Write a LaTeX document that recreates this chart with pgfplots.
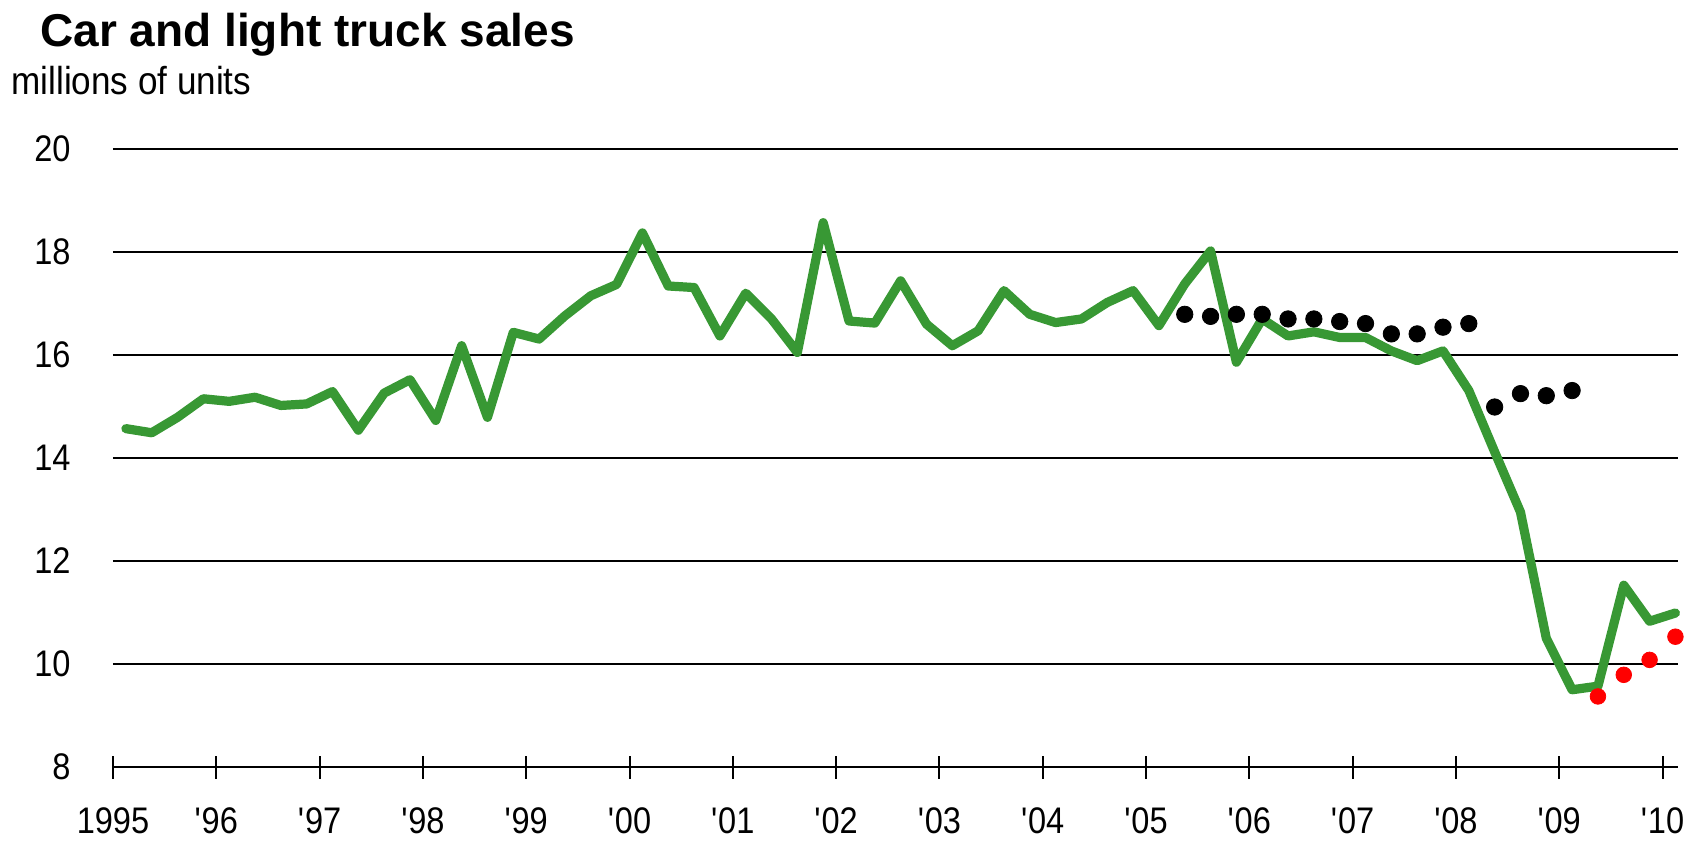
\documentclass[border=0pt]{standalone}
\usepackage{fontspec}
\setmainfont{Liberation Sans}
\newfontfamily\tickfont{Liberation Sans}[FakeStretch=0.88]
\newfontfamily\subfont{Liberation Sans}[FakeStretch=0.9]
\usepackage{pgfplots}
\pgfplotsset{compat=1.18}
\definecolor{lgreen}{RGB}{56,152,52}
\newcommand{\q}{\textquotesingle}
\pgfplotstableread{
x y
1995.125 14.57
1995.375 14.49
1995.625 14.79
1995.875 15.15
1996.125 15.10
1996.375 15.18
1996.625 15.02
1996.875 15.05
1997.125 15.29
1997.375 14.54
1997.625 15.26
1997.875 15.52
1998.125 14.73
1998.375 16.18
1998.625 14.79
1998.875 16.44
1999.125 16.31
1999.375 16.76
1999.625 17.15
1999.875 17.37
2000.125 18.37
2000.375 17.34
2000.625 17.31
2000.875 16.37
2001.125 17.20
2001.375 16.70
2001.625 16.05
2001.875 18.57
2002.125 16.66
2002.375 16.62
2002.625 17.44
2002.875 16.60
2003.125 16.18
2003.375 16.47
2003.625 17.25
2003.875 16.79
2004.125 16.63
2004.375 16.70
2004.625 17.02
2004.875 17.25
2005.125 16.57
2005.375 17.38
2005.625 18.02
2005.875 15.86
2006.125 16.70
2006.375 16.37
2006.625 16.45
2006.875 16.34
2007.125 16.34
2007.375 16.08
2007.625 15.89
2007.875 16.08
2008.125 15.31
2008.375 14.12
2008.625 12.95
2008.875 10.50
2009.125 9.50
2009.375 9.57
2009.625 11.53
2009.875 10.83
2010.125 10.99
}\sales
\pgfplotstableread{
x y
2005.375 16.79
2005.625 16.75
2005.875 16.79
2006.125 16.79
2006.375 16.70
2006.625 16.70
2006.875 16.65
2007.125 16.61
2007.375 16.41
2007.625 16.41
2007.875 16.54
2008.125 16.61
2008.375 14.99
2008.625 15.25
2008.875 15.21
2009.125 15.31
}\blackdots
\pgfplotstableread{
x y
2009.375 9.37
2009.625 9.79
2009.875 10.08
2010.125 10.53
}\reddots
\begin{document}
\begin{tikzpicture}
\begin{axis}[
  at={(0,0)}, anchor=south west,
  scale only axis, width=782.5pt, height=309pt,
  xmin=1995, xmax=2010.15, ymin=8, ymax=20,
  axis lines*=left,
  axis line style={-},
  x axis line style={black, line width=1.2pt},
  y axis line style={draw=none},
  xtick={1995,1996,...,2010},
  xticklabels={1995,\q96,\q97,\q98,\q99,\q00,\q01,\q02,\q03,\q04,\q05,\q06,\q07,\q08,\q09,\q10},
  ytick={8,10,...,20},
  yticklabels={8,10,12,14,16,18,20},
  xtick pos=bottom, ytick pos=left,
  tick align=center, major tick length=11.5pt,
  xtick style={black, line width=1pt},
  ytick style={draw=none},
  ymajorgrids, major grid style={black, line width=1pt},
  tick label style={font=\tickfont\fontsize{18.5}{22}\selectfont},
  xticklabel style={yshift=-11pt},
  yticklabel style={xshift=-12pt},
  clip=false,
]
\addplot[lgreen, line width=4.6pt, line join=round, line cap=round] table[x=x,y=y] {\sales};
\addplot[only marks, mark=*, mark size=4.1pt, black] table[x=x,y=y] {\blackdots};
\addplot[only marks, mark=*, mark size=3.9pt, red, mark options={fill=red, draw=red}] table[x=x,y=y] {\reddots};
\end{axis}
\node[anchor=base west, inner sep=0, font=\bfseries\fontsize{23}{27}\selectfont] at (-36.5pt,360pt) {Car and light truck sales};
\node[anchor=base west, inner sep=0, font=\subfont\fontsize{19.5}{23}\selectfont] at (-51pt,336pt) {millions of units};
\pgfresetboundingbox
\path (-56.5pt,-37.5pt) rectangle (796pt,383.5pt);
\end{tikzpicture}
\end{document}
